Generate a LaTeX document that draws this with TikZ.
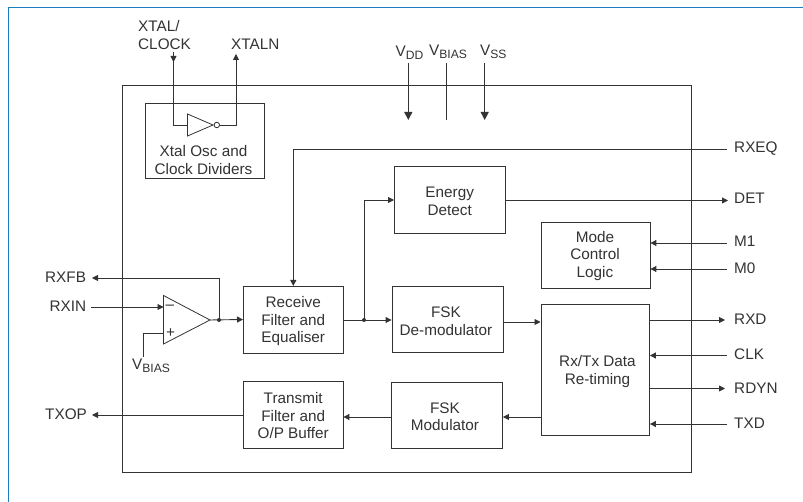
\documentclass[tikz,border=0pt]{standalone}
\usepackage{fontspec}
\setmainfont{Liberation Sans}
\usetikzlibrary{arrows.meta}
\definecolor{ink}{HTML}{333333}
\definecolor{frameblue}{HTML}{1B7DC0}
\newcommand{\sbs}[1]{\raisebox{-2.5pt}{\fontsize{12.1}{14}\selectfont #1}}
\tikzset{
  txt/.style={text=ink,inner sep=0pt,font=\fontsize{15.3}{17.5}\selectfont,align=center},
  lab/.style={txt,anchor=west},
  blk/.style={draw=ink,line width=0.9pt,inner sep=0pt},
  wire/.style={draw=ink,line width=0.9pt},
  arr/.style={wire,-{Triangle[length=6pt,width=6pt]}},
  bigarr/.style={wire,-{Triangle[length=8pt,width=8pt]}},
  dot/.style={circle,fill=ink,inner sep=0pt,minimum size=4pt},
}
\begin{document}
\begin{tikzpicture}[x=1pt,y=-1pt]
\useasboundingbox (0,0) rectangle (803,502);
\fill[white] (0,0) rectangle (803,502);
\draw[frameblue,line width=1.2pt] (8.5,502) -- (8.5,7.5) -- (803,7.5);
% outer and blocks
\node[blk,minimum width=569.5pt,minimum height=387pt] (chip) at (406.75,278.5) {};
\node[blk,minimum width=119pt,minimum height=75pt] (osc) at (204.5,140.5) {};
\node[txt] (osctxt) at (203.5,160) {Xtal Osc and\\Clock Dividers};
\node[blk,minimum width=110.5pt,minimum height=66.5pt] (energy) at (449.7,200.2) {};
\node[txt] (energytxt) at (449.7,201.2) {Energy\\Detect};
\node[blk,minimum width=108.5pt,minimum height=66pt] (mode) at (595.7,255.5) {};
\node[txt] (modetxt) at (595,256) {Mode\\Control\\Logic};
\node[blk,minimum width=111pt,minimum height=66.5pt] (demod) at (447.5,319.7) {};
\node[txt] (demodtxt) at (446,321) {FSK\\De-modulator};
\node[blk,minimum width=108.5pt,minimum height=131pt] (retime) at (595.2,369.5) {};
\node[txt] (retimetxt) at (597.5,371.5) {Rx/Tx Data\\Re-timing};
\node[blk,minimum width=111pt,minimum height=66pt] (mod) at (447,415) {};
\node[txt] (modtxt) at (445,416.5) {FSK\\Modulator};
\node[blk,minimum width=99.5pt,minimum height=67pt] (recv) at (293.2,319.5) {};
\node[txt] (recvtxt) at (293.2,321.5) {Receive\\Filter and\\Equaliser};
\node[blk,minimum width=99.5pt,minimum height=66.5pt] (trans) at (293.2,414.7) {};
\node[txt] (transtxt) at (293.2,415.7) {Transmit\\Filter and\\O/P Buffer};
% inverter
\draw[wire,fill=white,line width=0.8pt] (187.5,114) -- (187.5,136) -- (213,125) -- cycle;
\node[circle,draw=ink,line width=0.8pt,fill=white,inner sep=0pt,minimum size=5.5pt] (bub) at (216.8,125) {};
\coordinate (invin) at (187.5,125);
% op amp
\draw[wire,fill=white,line width=0.8pt] (163.5,295.5) -- (163.5,344) -- (210,320) -- cycle;
\coordinate (ampout) at (210,320);
\coordinate (ampm) at (163.5,307);
\coordinate (ampp) at (163.5,333);
\node[txt] (minus) at (170,307) {–};
\node[txt] (plus) at (170.5,333) {+};
% labels
\node[txt,align=left,anchor=north west] (xtal) at (138,20.5) {XTAL/\\CLOCK};
\node[lab] (xtaln) at (231,44.5) {XTALN};
\node[lab] (vdd) at (395.5,52.5) {V\sbs{DD}};
\node[lab] (vb) at (429,52) {V\sbs{BIAS}};
\node[lab] (vss) at (480,52) {V\sbs{SS}};
\node[lab] (rxfb) at (45,277) {RXFB};
\node[lab] (rxin) at (49.5,306) {RXIN};
\node[lab] (vb2) at (132,366) {V\sbs{BIAS}};
\node[lab] (txop) at (45,414) {TXOP};
\node[lab] (rxeq) at (734,148.5) {RXEQ};
\node[lab] (det) at (734,198) {DET};
\node[lab] (m1) at (734,241.5) {M1};
\node[lab] (m0) at (734,268.5) {M0};
\node[lab] (rxd) at (734,319) {RXD};
\node[lab] (clk) at (734,354.5) {CLK};
\node[lab] (rdyn) at (734,388) {RDYN};
\node[lab] (txd) at (734,423.5) {TXD};
% free ends
\coordinate (xtalend) at (173.5,52);
\coordinate (xtalnend) at (236,54);
% connectors
\draw[wire] (invin) -- (173.5,125) -- (xtalend);
\draw[-{Triangle[length=6pt,width=6pt]},draw=ink,line width=0.9pt] (xtalend) -- (173.5,62);
\draw[arr] (bub.east) -- (236,125) -- (xtalnend);
\coordinate (vddtop) at (408.3,63); \coordinate (vddend) at (408.3,120);
\coordinate (vbtop) at (446,63); \coordinate (vbend) at (446,120);
\coordinate (vsstop) at (484.7,63); \coordinate (vssend) at (484.7,120);
\draw[bigarr] (vddtop) -- (vddend);
\draw[wire] (vbtop) -- (vbend);
\draw[bigarr] (vsstop) -- (vssend);
\coordinate (rxeqstart) at (727,149.5);
\draw[arr] (rxeqstart) -- (293.3,149.5) -- (293.3,286);
\coordinate (ampdot) at (219,320);
\draw[arr] (ampout) -- (recv.west);
\node[dot] (d1) at (ampdot) {};
\draw[arr] (d1.center) -- (219,278) -- (92,278);
\coordinate (rxinstart) at (91,307);
\draw[arr] (rxinstart) -- (ampm);
\draw[wire] (ampp) -- (143.5,333) -- (143.5,357);
\node[dot] (d2) at (364,320) {};
\draw[arr] (recv.east |- d2) -- (demod.west |- d2);
\draw[arr] (d2.center) -- (364,200) -- (energy.west |- 0,200);
\draw[arr] (energy.east |- 0,200.5) -- (728,200.5);
\draw[arr] (727,243) -- (mode.east |- 0,243);
\draw[arr] (727,269) -- (mode.east |- 0,269);
\draw[arr] (demod.east |- 0,322) -- (retime.west |- 0,322);
\draw[arr] (retime.east |- 0,320) -- (725,320);
\draw[arr] (727,355.5) -- (retime.east |- 0,355.5);
\draw[arr] (retime.east |- 0,388.5) -- (725,388.5);
\draw[arr] (727,424) -- (retime.east |- 0,424);
\draw[arr] (retime.west |- 0,417) -- (mod.east |- 0,417);
\draw[arr] (mod.west |- 0,417) -- (trans.east |- 0,417);
\draw[arr] (trans.west |- 0,415) -- (92,415);
\end{tikzpicture}
\end{document}
